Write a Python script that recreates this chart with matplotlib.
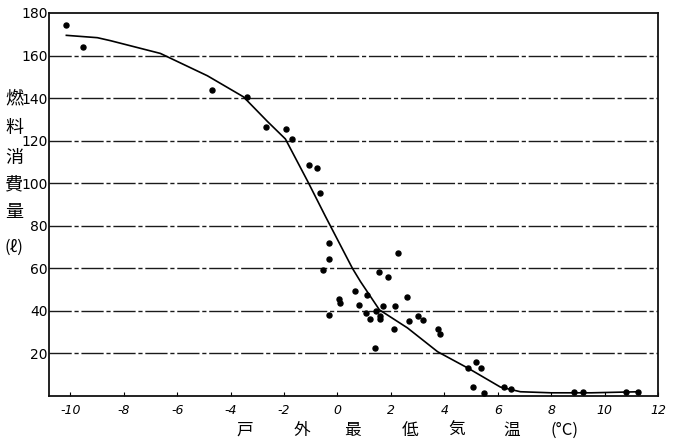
import numpy as np
import matplotlib
matplotlib.use("Agg")
import matplotlib.pyplot as plt

plt.rcParams['font.family'] = ['DejaVu Sans']

# observed points (outdoor min temperature, fuel consumption)
obs_temp = [-10.15, -9.54, -4.68, -3.37, -2.66, -1.91, -1.72, -1.05, -0.75, -0.64,
            -0.30, -0.30, -0.56, -0.30, 0.07, 0.11, 0.64, 0.82, 1.05, 1.12,
            1.20, 1.42, 1.46, 1.57, 1.61, 1.61, 1.72, 1.90, 2.13, 2.17,
            2.25, 2.62, 2.66, 3.03, 3.22, 3.78, 3.82, 4.90, 5.09, 5.20,
            5.36, 5.47, 6.25, 6.48, 8.84, 9.20, 10.80, 11.24]
obs_fuel = [174.5, 164.0, 143.9, 140.6, 126.4, 125.5, 120.8, 108.5, 107.0, 95.3,
            71.7, 64.6, 59.0, 38.2, 45.8, 43.8, 49.5, 43.0, 39.0, 47.6,
            36.3, 22.6, 40.0, 58.5, 36.3, 37.5, 42.5, 56.0, 31.6, 42.5,
            67.0, 46.7, 35.4, 37.7, 35.8, 31.6, 29.2, 13.2, 4.2, 16.0,
            13.2, 1.4, 4.3, 3.3, 2.0, 2.0, 2.0, 2.0]

# fitted curve
curve_temp = [-10.15, -8.99, -8.5, -6.63, -4.87, -3.52, -2.62, -1.95, -1.12, -0.45,
              0.56, 0.86, 1.57, 2.62, 3.75, 4.90, 6.10, 6.85, 8.0, 9.5, 11.3]
curve_fuel = [169.5, 168.4, 167.0, 161.0, 150.5, 140.6, 129.0, 120.8, 101.0, 84.4,
              60.0, 53.8, 40.5, 32.0, 20.8, 13.0, 4.2, 2.0, 1.5, 1.5, 2.0]

x_ticks = [-10, -8, -6, -4, -2, 0, 2, 4, 6, 8, 10, 12]
y_ticks = [20, 40, 60, 80, 100, 120, 140, 160, 180]
grid_levels = [20, 40, 60, 80, 100, 120, 140, 160]

ylabel_chars = ['燃', '料', '消', '費', '量', '(ℓ)']
xlabel_chars = ['戸', '外', '最', '低', '気', '温', '(°C)']

W, H = 680, 445
fig = plt.figure(figsize=(W / 100, H / 100), dpi=100)
ax = fig.add_axes([49 / W, (H - 396) / H, (658 - 49) / W, (396 - 13) / H])

for lv in grid_levels:
    ax.axhline(lv, color='#1a1a1a', lw=1.0, linestyle=(0, (16, 2, 3, 2)), zorder=1)

ax.plot(curve_temp, curve_fuel, color='black', lw=1.2, zorder=3)
ax.plot(obs_temp, obs_fuel, 'o', color='black', ms=3.6, zorder=4)

narrow = ['Liberation Sans Narrow', 'DejaVu Sans']
ax.set_xlim(-10.8, 12.0)
ax.set_ylim(0, 180)
ax.set_xticks(x_ticks)
ax.set_xticklabels([str(t) for t in x_ticks], fontsize=9, style='italic')
ax.set_yticks(y_ticks)
ax.set_yticklabels([str(t) for t in y_ticks], fontsize=10, family=narrow)
ax.tick_params(axis='x', direction='in', length=3, pad=6, colors='black')
ax.tick_params(axis='y', length=0, pad=1)
for s in ax.spines.values():
    s.set_linewidth(1.3)
    s.set_color('#111111')

cjk = ['Noto Sans CJK JP', 'DejaVu Sans']
ys = [98, 128, 158, 184, 212, 247]
for ch, yp in zip(ylabel_chars, ys):
    fig.text(14 / W, 1 - yp / H, ch, family=cjk, fontsize=13 if len(ch) == 1 else 12,
             ha='center', va='center')

xs = [245, 302, 352, 410, 457, 512, 565]
for ch, xp in zip(xlabel_chars, xs):
    fig.text(xp / W, 1 - 430 / H, ch, family=cjk, fontsize=12, ha='center', va='center')

fig.savefig('out.png', dpi=100)
